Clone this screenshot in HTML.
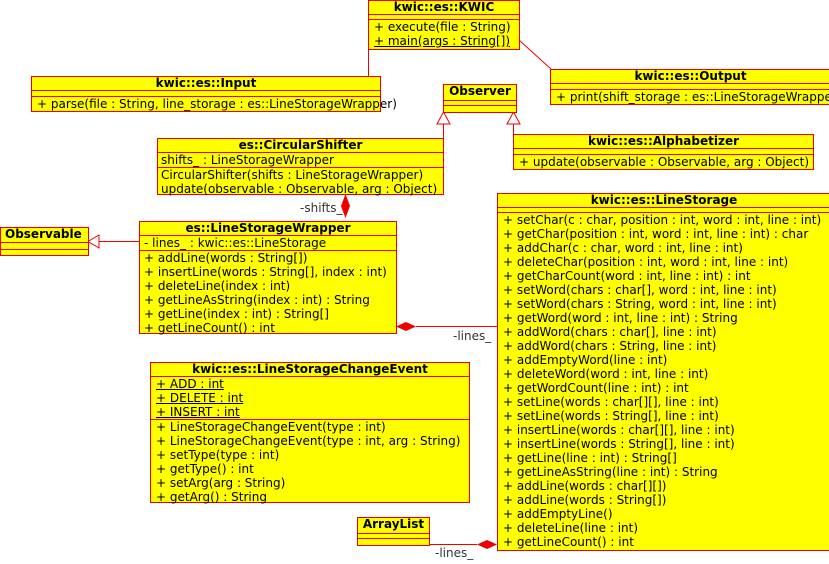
<!DOCTYPE html><html><head><meta charset="utf-8"><style>
body{margin:0;width:829px;height:564px;background:#fff;position:relative;overflow:hidden;font-family:"DejaVu Sans","Liberation Sans",sans-serif;font-size:12px;color:#000}
.b{position:absolute;background:#ff0;border:1px solid #e00;box-sizing:border-box;line-height:14px}
.t{font-weight:bold;text-align:center;height:13px;border-bottom:1px solid #e00;font-size:12px;line-height:13px}
.s{border-bottom:1px solid #e00;padding-left:5px;white-space:nowrap}
.s:last-child{border-bottom:none}
.e{height:4px}
.u{text-decoration:underline}
.lbl{position:absolute;font-size:12px;color:#333}
svg{position:absolute;left:0;top:0}
</style></head><body>
<svg width="829" height="564">
<g stroke="#e00" fill="none" stroke-width="1">
<line x1="368.5" y1="49" x2="368.5" y2="76"/>
<line x1="519" y1="40" x2="551" y2="69"/>
<polyline points="443.5,138 443.5,124"/><polygon points="437,124 450,124 443.5,112" fill="#fff"/>
<polyline points="513.5,134 513.5,124"/><polygon points="507,124 520,124 513.5,112" fill="#fff"/>
<line x1="99" y1="241.5" x2="139" y2="241.5"/><polygon points="99,235 99,248 88,241.5" fill="#fff"/>
<line x1="416" y1="326.5" x2="497" y2="326.5"/>
<line x1="430" y1="544.5" x2="477" y2="544.5"/>
</g>
<g fill="#e00">
<polygon points="345.5,194 350,206 345.5,218 341,206"/>
<polygon points="396,326.5 406,322 416,326.5 406,331"/>
<polygon points="477,544.5 487,540 497,544.5 487,549"/>
</g>
</svg>
<div class="lbl" style="left:300px;top:201px">-shifts_</div>
<div class="lbl" style="left:453px;top:329px">-lines_</div>
<div class="lbl" style="left:435px;top:546px">-lines_</div>

<div class="b" style="left:368px;top:0;width:152px;height:50px"><div class="t">kwic::es::KWIC</div><div class="s e"></div><div class="s">+ execute(file : String)<br><span class="u">+ main(args : String[])</span></div></div>

<div class="b" style="left:31px;top:76px;width:350px;height:36px;overflow:visible"><div class="t">kwic::es::Input</div><div class="s e" style="height:5px"></div><div class="s" style="overflow:visible">+ parse(file : String, line_storage : es::LineStorageWrapper)</div></div>

<div class="b" style="left:443px;top:84px;width:74px;height:29px"><div class="t" style="height:15px">Observer</div><div class="s e"></div><div class="s e" style="border:none"></div></div>

<div class="b" style="left:550px;top:69px;width:290px;height:36px"><div class="t" style="width:279px">kwic::es::Output</div><div class="s e" style="height:5px"></div><div class="s">+ print(shift_storage : es::LineStorageWrapper)</div></div>

<div class="b" style="left:513px;top:134px;width:301px;height:36px"><div class="t">kwic::es::Alphabetizer</div><div class="s e" style="height:5px"></div><div class="s">+ update(observable : Observable, arg : Object)</div></div>

<div class="b" style="left:157px;top:138px;width:287px;height:57px"><div class="t">es::CircularShifter</div><div class="s" style="padding-left:3px">shifts_ : LineStorageWrapper</div><div class="s" style="padding-left:3px">CircularShifter(shifts : LineStorageWrapper)<br>update(observable : Observable, arg : Object)</div></div>

<div class="b" style="left:0;top:227px;width:89px;height:29px"><div class="t" style="text-align:left;padding-left:4px;height:14px">Observable</div><div class="s e" style="height:6px"></div><div class="s e" style="border:none"></div></div>

<div class="b" style="left:139px;top:221px;width:258px;height:113px"><div class="t">es::LineStorageWrapper</div><div class="s" style="padding-left:4px">- lines_ : kwic::es::LineStorage</div><div class="s" style="padding-left:4px">+ addLine(words : String[])<br>+ insertLine(words : String[], index : int)<br>+ deleteLine(index : int)<br>+ getLineAsString(index : int) : String<br>+ getLine(index : int) : String[]<br>+ getLineCount() : int</div></div>

<div class="b" style="left:497px;top:193px;width:345px;height:358px"><div class="t" style="width:332px">kwic::es::LineStorage</div><div class="s e"></div><div class="s">+ setChar(c : char, position : int, word : int, line : int)<br>+ getChar(position : int, word : int, line : int) : char<br>+ addChar(c : char, word : int, line : int)<br>+ deleteChar(position : int, word : int, line : int)<br>+ getCharCount(word : int, line : int) : int<br>+ setWord(chars : char[], word : int, line : int)<br>+ setWord(chars : String, word : int, line : int)<br>+ getWord(word : int, line : int) : String<br>+ addWord(chars : char[], line : int)<br>+ addWord(chars : String, line : int)<br>+ addEmptyWord(line : int)<br>+ deleteWord(word : int, line : int)<br>+ getWordCount(line : int) : int<br>+ setLine(words : char[][], line : int)<br>+ setLine(words : String[], line : int)<br>+ insertLine(words : char[][], line : int)<br>+ insertLine(words : String[], line : int)<br>+ getLine(line : int) : String[]<br>+ getLineAsString(line : int) : String<br>+ addLine(words : char[][])<br>+ addLine(words : String[])<br>+ addEmptyLine()<br>+ deleteLine(line : int)<br>+ getLineCount() : int</div></div>

<div class="b" style="left:150px;top:362px;width:320px;height:141px"><div class="t">kwic::es::LineStorageChangeEvent</div><div class="s"><span class="u">+ ADD : int</span><br><span class="u">+ DELETE : int</span><br><span class="u">+ INSERT : int</span></div><div class="s">+ LineStorageChangeEvent(type : int)<br>+ LineStorageChangeEvent(type : int, arg : String)<br>+ setType(type : int)<br>+ getType() : int<br>+ setArg(arg : String)<br>+ getArg() : String</div></div>

<div class="b" style="left:357px;top:517px;width:73px;height:29px"><div class="t" style="height:15px">ArrayList</div><div class="s e"></div><div class="s e" style="border:none"></div></div>
</body></html>
